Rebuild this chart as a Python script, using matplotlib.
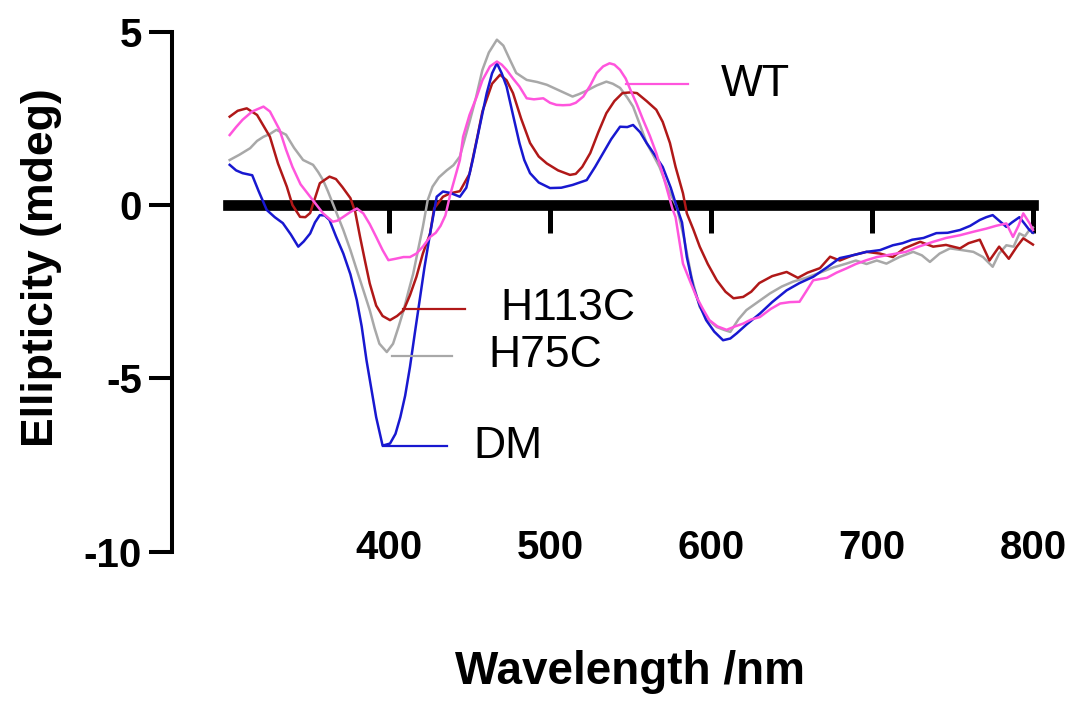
"""
CD spectra of WT and the three cysteine mutants (H113C, H75C, DM),
drawn Prism-style: zero line with ticks, offset left axis, labels
with short leader lines instead of a legend box.
"""

import matplotlib
matplotlib.use("Agg")
import matplotlib.pyplot as plt

plt.rcParams["font.family"] = ["Liberation Sans", "DejaVu Sans"]

# --- data (wavelength nm, ellipticity mdeg) ---
h113c_x = [301, 306, 311.6, 318, 326, 331, 336.5, 340, 344.7, 348, 351, 354, 357, 363, 367,
           371, 376, 379, 382, 385, 388, 392, 396, 400.6, 405, 409, 413, 417, 421, 425.5,
           428, 433.5, 438, 444, 450, 455, 458, 464, 469, 473, 477, 482, 487.6, 493, 498,
           505, 512.4, 516, 520, 525, 530, 535, 540, 545, 550, 554, 560, 566, 570, 574.5,
           578, 582.6, 585, 589, 593, 598, 603.6, 609, 614, 620, 625, 630, 638, 647, 654,
           660, 667.7, 674, 680, 688, 696.6, 705, 713, 720, 730, 738, 746, 754.7, 760, 767,
           773, 779, 785, 790, 794, 797, 800]
h113c_y = [2.55, 2.72, 2.79, 2.6, 1.97, 1.2, 0.53, 0.0, -0.34, -0.35, -0.23, 0.2, 0.63, 0.82, 0.75,
           0.52, 0.2, -0.2, -0.92, -1.6, -2.26, -2.9, -3.2, -3.32, -3.2, -3.04, -2.6, -2.07, -1.4, -0.82,
           -0.1, 0.24, 0.34, 0.4, 0.9, 2.0, 2.7, 3.5, 3.76, 3.6, 3.23, 2.5, 1.79, 1.4, 1.2,
           1.0, 0.87, 0.9, 1.1, 1.5, 2.1, 2.65, 3.0, 3.23, 3.25, 3.23, 3.0, 2.75, 2.4, 1.79,
           1.1, 0.34, -0.24, -0.7, -1.2, -1.7, -2.17, -2.5, -2.69, -2.65, -2.5, -2.25, -2.05, -1.93, -2.1,
           -1.95, -1.82, -1.49, -1.6, -1.45, -1.35, -1.4, -1.5, -1.25, -1.06, -1.2, -1.15, -1.25, -1.1, -1.0,
           -1.6, -1.2, -1.55, -1.2, -0.96, -1.05, -1.14]

dm_x = [301, 305, 309, 315, 319, 324, 329, 334, 339, 343.6, 347, 351, 354, 357, 360, 363, 367,
        371.6, 376, 380, 383, 386, 389, 392, 396, 400.6, 404, 407, 410, 413, 416, 419, 422,
        425.5, 429.6, 433.5, 438, 444, 448, 452, 456, 460.7, 464, 467, 470, 473, 477, 481, 484,
        487.6, 493, 500, 507, 514, 522.8, 528, 533, 538, 543.5, 548, 551.6, 556, 560, 565, 570,
        575, 578.7, 582, 585, 589, 593, 597, 602, 607.5, 612, 616, 622, 630.4, 638, 647, 655,
        663.5, 672, 680, 688, 696.6, 705, 713, 719, 725, 732, 740, 747, 754.7, 761, 767, 771,
        775, 779, 783.5, 787, 791.6, 795, 797.8, 800]
dm_y = [1.16, 1.0, 0.92, 0.86, 0.4, -0.14, -0.35, -0.52, -0.85, -1.2, -1.05, -0.82, -0.5, -0.29, -0.3, -0.43, -0.9,
        -1.4, -2.0, -2.75, -3.5, -4.48, -5.3, -6.12, -6.94, -6.88, -6.6, -6.12, -5.5, -4.67, -3.7, -2.75, -1.8,
        -0.82, 0.24, 0.39, 0.35, 0.24, 0.5, 1.3, 2.2, 3.23, 3.8, 4.09, 3.8, 3.42, 2.6, 1.79, 1.3,
        0.92, 0.65, 0.49, 0.5, 0.58, 0.72, 1.1, 1.5, 1.9, 2.26, 2.25, 2.31, 2.1, 1.79, 1.45, 1.1,
        0.5, -0.05, -0.5, -1.5, -2.36, -2.9, -3.32, -3.65, -3.9, -3.85, -3.7, -3.45, -3.13, -2.8, -2.46, -2.25,
        -2.07, -1.8, -1.53, -1.45, -1.35, -1.3, -1.16, -1.1, -1.0, -0.95, -0.81, -0.8, -0.72, -0.6, -0.43, -0.35,
        -0.29, -0.45, -0.63, -0.5, -0.35, -0.55, -0.72, -0.8]

h75c_x = [301, 307, 313.7, 318, 322, 326, 330, 336, 341, 346.6, 352.8, 356, 359, 362, 365, 368,
          371.6, 376, 380, 384, 388, 391, 394, 398.6, 402.5, 406, 409, 412, 415, 418, 421, 424,
          427, 431, 435.8, 440, 444, 447, 450, 454, 458, 462, 467, 471, 475, 479, 485.5, 492,
          498, 506, 514, 518, 522.8, 529, 535, 539, 543.5, 548, 551.6, 556, 560, 564, 568, 573,
          578.7, 583, 588, 593, 598, 603.6, 608, 612, 617, 622, 629, 636.6, 644, 651, 659, 667.7,
          676, 684, 690, 696.6, 703, 709, 717, 725.6, 731, 736, 742, 748.5, 756, 763, 769, 775,
          779, 783.5, 788, 791.6, 795, 797.8, 800]
h75c_y = [1.3, 1.45, 1.64, 1.85, 1.97, 2.05, 2.17, 2.03, 1.65, 1.3, 1.16, 0.95, 0.72, 0.4, 0.05, -0.3,
          -0.72, -1.3, -1.88, -2.45, -3.03, -3.55, -4.0, -4.24, -4.0, -3.5, -3.04, -2.5, -1.98, -1.3, -0.63, 0.14,
          0.53, 0.8, 1.0, 1.15, 1.4, 1.9, 2.4, 3.1, 3.9, 4.4, 4.77, 4.6, 4.2, 3.81, 3.61, 3.55,
          3.47, 3.3, 3.13, 3.2, 3.3, 3.45, 3.56, 3.5, 3.38, 3.1, 2.84, 2.3, 1.79, 1.45, 1.1, 0.5,
          -0.05, -0.9, -2.1, -2.94, -3.3, -3.52, -3.6, -3.66, -3.3, -3.03, -2.8, -2.55, -2.35, -2.21, -2.1, -1.95,
          -1.8, -1.69, -1.6, -1.7, -1.6, -1.69, -1.5, -1.35, -1.45, -1.64, -1.4, -1.25, -1.3, -1.35, -1.5, -1.78,
          -1.4, -1.16, -1.2, -0.82, -0.9, -0.72, -0.65]

wt_x = [301, 305, 309, 315, 322, 326, 332, 336, 340, 345, 351, 355, 359, 365, 368, 371.6, 376,
        380, 384, 388, 392, 396, 399.6, 404, 409, 413, 417, 421, 425.5, 429, 432, 435, 438, 441,
        444, 446, 450, 454.5, 458, 462.7, 467, 470, 473, 477, 481, 485.5, 490, 495.8, 500, 504,
        508, 512.4, 516, 520.7, 525, 529, 533, 537, 540, 543.5, 547, 550, 554, 557.8, 562, 566,
        570, 576, 578, 582.6, 587, 591, 595, 599, 604, 609.7, 615, 620, 625, 630.4, 637, 643,
        649, 655, 659, 663.5, 672, 678, 684, 690, 696.6, 703, 709, 715, 721, 729, 738, 746,
        754.7, 763, 771, 777, 783.5, 787.6, 791, 794, 798, 800]
wt_y = [2.02, 2.25, 2.46, 2.7, 2.84, 2.7, 2.17, 1.6, 1.1, 0.6, 0.24, 0.0, -0.24, -0.48, -0.45, -0.34, -0.2,
        -0.1, -0.24, -0.55, -0.92, -1.3, -1.59, -1.55, -1.5, -1.5, -1.4, -1.2, -0.92, -0.8, -0.6, -0.3, 0.3, 0.8,
        1.3, 1.97, 2.6, 3.13, 3.6, 4.0, 4.14, 4.05, 3.9, 3.65, 3.42, 3.08, 3.05, 3.08, 2.95, 2.89,
        2.88, 2.89, 2.95, 3.13, 3.45, 3.81, 4.0, 4.09, 4.05, 3.9, 3.65, 3.32, 2.9, 2.46, 2.0, 1.5,
        0.9, -0.1, -0.35, -1.69, -2.2, -2.65, -3.0, -3.32, -3.5, -3.6, -3.5, -3.42, -3.3, -3.23, -3.0, -2.84,
        -2.8, -2.79, -2.5, -2.17, -2.1, -1.95, -1.83, -1.7, -1.59, -1.5, -1.45, -1.4, -1.35, -1.2, -1.06, -0.95,
        -0.87, -0.77, -0.68, -0.6, -0.53, -0.92, -0.6, -0.24, -0.53, -0.72]

# label text + where its leader line starts/ends and where the text sits
label_names = ["WT", "H113C", "H75C", "DM"]
leader_x = [(547.5, 585.5), (408.7, 447.2), (401.7, 439.0), (396.0, 435.8)]
leader_y = [3.49, -2.99, -4.35, -6.96]
label_x = [606, 469, 461.5, 452.5]

x_ticks = [400, 500, 600, 700, 800]
y_ticks = [5, 0, -5, -10]

COLORS = {"WT": "#ff55dd", "H113C": "#b01818", "H75C": "#a8a8a8", "DM": "#1818d0"}


def plot_spectra(output_path):
    fig = plt.figure(figsize=(10.7, 7.02), dpi=100)
    # axes placed by hand so the offset left axis sits where Prism put it
    ax = fig.add_axes([0.1605, 0.2141, 0.8199, 0.7407])

    series = [("H75C", h75c_x, h75c_y), ("H113C", h113c_x, h113c_y),
              ("DM", dm_x, dm_y), ("WT", wt_x, wt_y)]
    for name, xs, ys in series:
        ax.plot(xs, ys, color=COLORS[name], lw=1.8, zorder=3)

    for name, (x0, x1), y, tx in zip(label_names, leader_x, leader_y, label_x):
        ax.plot([x0, x1], [y, y], color=COLORS[name], lw=1.6, zorder=3)
        ax.text(tx, y, name, fontsize=32, va="center", ha="left")

    ax.set_xlim(265, 810)
    ax.set_ylim(-10, 5)

    for side in ("top", "right"):
        ax.spines[side].set_visible(False)
    ax.spines["bottom"].set_position(("data", 0))
    ax.spines["bottom"].set_bounds(300, 800)
    ax.spines["bottom"].set_linewidth(7.7)
    ax.spines["bottom"].set_zorder(2)
    ax.spines["left"].set_bounds(-10, 5)
    ax.spines["left"].set_linewidth(2.9)

    ax.set_xticks(x_ticks)
    ax.set_yticks(y_ticks)
    ax.set_xticklabels([str(t) for t in x_ticks], fontsize=29, fontweight="bold")
    ax.set_yticklabels([str(t) for t in y_ticks], fontsize=29, fontweight="bold")
    # tick labels for x live down at the bottom of the frame, not under the zero line
    ax.tick_params(axis="x", direction="out", length=20, width=3.6, pad=213)
    ax.tick_params(axis="y", direction="out", length=16.5, width=2.9, pad=5)

    ax.set_ylabel("Ellipticity (mdeg)", fontsize=32, fontweight="bold")
    ax.yaxis.set_label_coords(-0.125, 0.546)
    ax.set_xlabel("Wavelength /nm", fontsize=33, fontweight="bold")
    ax.xaxis.set_label_coords(0.522, -0.19)

    fig.savefig(output_path, dpi=100)
    plt.close(fig)


if __name__ == "__main__":
    plot_spectra("out.png")
